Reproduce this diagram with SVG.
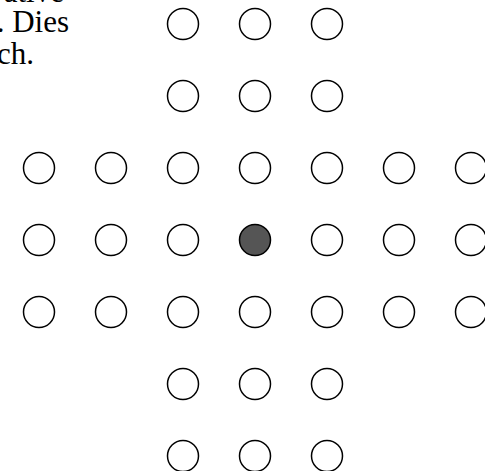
<svg xmlns="http://www.w3.org/2000/svg" width="485" height="471" viewBox="0 0 485 471">
<style>
.hole{fill:#fff;stroke:#000;stroke-width:1.5}
.peg{fill:#555;stroke:#000;stroke-width:1.5}
.t{font-family:"Liberation Serif","Times New Roman",serif;font-size:31px;fill:#000;text-anchor:end}
</style>
<rect width="485" height="471" fill="#fff"/>
<g id="caption">
<text class="t" x="64" y="1.5">ative</text>
<text class="t" x="69" y="32">. Dies</text>
<text class="t" x="34" y="64">ch.</text>
</g>
<g id="board">
<g id="row1"><circle class="hole" cx="183" cy="24" r="15.5"/><circle class="hole" cx="255" cy="24" r="15.5"/><circle class="hole" cx="327" cy="24" r="15.5"/></g>
<g id="row2"><circle class="hole" cx="183" cy="96" r="15.5"/><circle class="hole" cx="255" cy="96" r="15.5"/><circle class="hole" cx="327" cy="96" r="15.5"/></g>
<g id="row3"><circle class="hole" cx="39" cy="168" r="15.5"/><circle class="hole" cx="111" cy="168" r="15.5"/><circle class="hole" cx="183" cy="168" r="15.5"/><circle class="hole" cx="255" cy="168" r="15.5"/><circle class="hole" cx="327" cy="168" r="15.5"/><circle class="hole" cx="399" cy="168" r="15.5"/><circle class="hole" cx="471" cy="168" r="15.5"/></g>
<g id="row4"><circle class="hole" cx="39" cy="240" r="15.5"/><circle class="hole" cx="111" cy="240" r="15.5"/><circle class="hole" cx="183" cy="240" r="15.5"/><circle class="peg" cx="255" cy="240" r="15.5"/><circle class="hole" cx="327" cy="240" r="15.5"/><circle class="hole" cx="399" cy="240" r="15.5"/><circle class="hole" cx="471" cy="240" r="15.5"/></g>
<g id="row5"><circle class="hole" cx="39" cy="312" r="15.5"/><circle class="hole" cx="111" cy="312" r="15.5"/><circle class="hole" cx="183" cy="312" r="15.5"/><circle class="hole" cx="255" cy="312" r="15.5"/><circle class="hole" cx="327" cy="312" r="15.5"/><circle class="hole" cx="399" cy="312" r="15.5"/><circle class="hole" cx="471" cy="312" r="15.5"/></g>
<g id="row6"><circle class="hole" cx="183" cy="384" r="15.5"/><circle class="hole" cx="255" cy="384" r="15.5"/><circle class="hole" cx="327" cy="384" r="15.5"/></g>
<g id="row7"><circle class="hole" cx="183" cy="456" r="15.5"/><circle class="hole" cx="255" cy="456" r="15.5"/><circle class="hole" cx="327" cy="456" r="15.5"/></g>
</g>
<g id="connectors"/>
</svg>
